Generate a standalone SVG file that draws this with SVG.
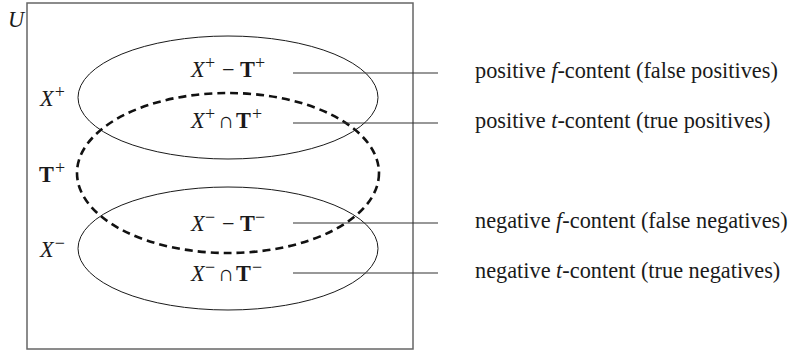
<svg xmlns="http://www.w3.org/2000/svg" width="794" height="353" viewBox="0 0 794 353">
<style>
text{font-family:"Liberation Serif","Times New Roman",serif;font-size:22.3px;fill:#1a1a1a}
.m{font-style:italic}
.b{font-weight:bold;font-style:normal}
.sup{font-size:18px;font-style:normal;font-weight:normal}
.set{fill:none;stroke:#1a1a1a;stroke-width:1}
.lead{stroke:#333;stroke-width:1.2}
</style>
<rect x="0" y="0" width="794" height="353" fill="#fff"/>
<g id="universe"><rect x="27" y="3" width="386" height="346" fill="none" stroke="#666" stroke-width="1.5"/>
<text x="8" y="27" class="m">U</text></g>
<g id="Xplus"><ellipse class="set" cx="228" cy="97.5" rx="150" ry="61.5"/>
<text x="40" y="106"><tspan class="m">X</tspan><tspan class="sup" dx="1" dy="-8">+</tspan></text></g>
<g id="Xminus"><ellipse class="set" cx="228" cy="248.5" rx="150" ry="61.5"/>
<text x="40" y="257"><tspan class="m">X</tspan><tspan class="sup" dx="1" dy="-8">−</tspan></text></g>
<g id="Tplus"><ellipse cx="228" cy="173" rx="151" ry="80" fill="none" stroke="#111" stroke-width="2.6" stroke-dasharray="8 5"/>
<text x="39" y="182"><tspan class="b">T</tspan><tspan class="sup" dx="1" dy="-8">+</tspan></text></g>
<g id="regions">
<text y="77"><tspan class="m" x="191">X</tspan><tspan class="sup" x="205" dy="-8">+</tspan><tspan x="222" dy="8">−</tspan><tspan class="b" x="240">T</tspan><tspan class="sup" x="255" dy="-8">+</tspan></text>
<text y="128"><tspan class="m" x="191">X</tspan><tspan class="sup" x="205" dy="-8">+</tspan><tspan x="218" dy="8">∩</tspan><tspan class="b" x="236">T</tspan><tspan class="sup" x="252" dy="-8">+</tspan></text>
<text y="231"><tspan class="m" x="191">X</tspan><tspan class="sup" x="205" dy="-8">−</tspan><tspan x="222" dy="8">−</tspan><tspan class="b" x="240">T</tspan><tspan class="sup" x="255" dy="-8">−</tspan></text>
<text y="281"><tspan class="m" x="191">X</tspan><tspan class="sup" x="205" dy="-8">−</tspan><tspan x="218" dy="8">∩</tspan><tspan class="b" x="236">T</tspan><tspan class="sup" x="252" dy="-8">−</tspan></text>
</g>
<g id="connectors">
<line class="lead" x1="293" y1="73" x2="438" y2="73"/>
<line class="lead" x1="293" y1="123" x2="438" y2="123"/>
<line class="lead" x1="293" y1="223" x2="438" y2="223"/>
<line class="lead" x1="293" y1="273" x2="438" y2="273"/>
</g>
<g id="labels">
<text x="475" y="78">positive <tspan class="m">f</tspan>-content (false positives)</text>
<text x="475" y="128">positive <tspan class="m">t</tspan>-content (true positives)</text>
<text x="475" y="228">negative <tspan class="m">f</tspan>-content (false negatives)</text>
<text x="475" y="278">negative <tspan class="m">t</tspan>-content (true negatives)</text>
</g>
</svg>
